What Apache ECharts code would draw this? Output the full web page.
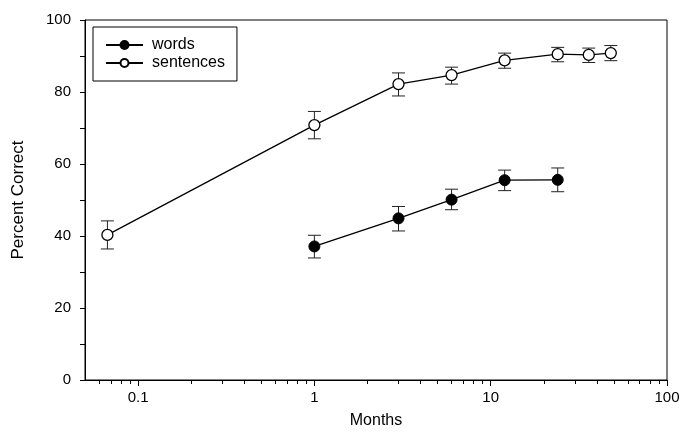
<!DOCTYPE html>
<html>
<head>
<meta charset="utf-8">
<script src="https://cdn.jsdelivr.net/npm/echarts@6/dist/echarts.min.js"></script>
<style>html,body{margin:0;padding:0;background:#fff}#c{width:685px;height:434px}</style>
</head>
<body>
<div id="c"></div>
<script>
// Data (months on x, percent correct on y)
const sentMonths = [0.067, 1, 3, 6, 12, 24, 36, 48];
const sentMean   = [40.3, 70.8, 82.2, 84.7, 88.8, 90.5, 90.3, 90.8];
const sentLow    = [36.4, 67.0, 78.9, 82.2, 86.6, 88.4, 88.2, 88.7];
const sentHigh   = [44.2, 74.6, 85.3, 86.9, 90.8, 92.4, 92.2, 92.9];

const wordMonths = [1, 3, 6, 12, 24];
const wordMean   = [37.1, 44.9, 50.1, 55.5, 55.6];
const wordLow    = [33.9, 41.4, 47.3, 52.6, 52.3];
const wordHigh   = [40.2, 48.2, 53.0, 58.3, 58.9];

const majorTicks = [0.1, 1, 10, 100];
const minorTicks = [0.06,0.07,0.08,0.09, 0.2,0.3,0.4,0.5,0.6,0.7,0.8,0.9, 2,3,4,5,6,7,8,9, 20,30,40,50,60,70,80,90];

const FONT = 'Liberation Sans, Arial, sans-serif';

function pairs(xs, ys){ return xs.map((x,i)=>[x, ys[i]]); }
function errData(xs, lo, hi){ return xs.map((x,i)=>[x, lo[i], hi[i]]); }

function errRender(params, api){
  const x = api.value(0);
  const lo = api.coord([x, api.value(1)]);
  const hi = api.coord([x, api.value(2)]);
  const hw = 6.5;
  const st = {stroke:'#222', lineWidth:1, fill:null};
  return {type:'group', children:[
    {type:'line', shape:{x1:lo[0], y1:lo[1], x2:hi[0], y2:hi[1]}, style:st},
    {type:'line', shape:{x1:lo[0]-hw, y1:lo[1], x2:lo[0]+hw, y2:lo[1]}, style:st},
    {type:'line', shape:{x1:hi[0]-hw, y1:hi[1], x2:hi[0]+hw, y2:hi[1]}, style:st}
  ]};
}

const chart = echarts.init(document.getElementById('c'), null, {renderer:'canvas'});
chart.setOption({
  animation:false,
  backgroundColor:'#fff',
  textStyle:{fontFamily:FONT},
  grid:{left:85, right:18, top:20, bottom:51.5, show:true, borderColor:'#000', borderWidth:1, backgroundColor:'transparent'},
  legend:{
    orient:'vertical', left:93, top:27,
    padding:[10, 12, 10, 12], itemGap:2,
    itemWidth:37, itemHeight:10,
    borderColor:'#000', borderWidth:1,
    textStyle:{fontFamily:FONT, fontSize:16, lineHeight:16, color:'#000', padding:[0,0,0,4]},
    data:['words','sentences']
  },
  xAxis:[{
    type:'log', logBase:10, min:0.05, max:100,
    name:'Months', nameLocation:'middle', nameGap:33,
    nameTextStyle:{fontFamily:FONT, fontSize:16, color:'#000'},
    axisLine:{show:true, lineStyle:{color:'#000', width:1}},
    axisTick:{show:true, length:6, inside:false, customValues:majorTicks, lineStyle:{color:'#000'}},
    axisLabel:{show:true, customValues:majorTicks, margin:10, fontFamily:FONT, fontSize:15, color:'#000',
      formatter:function(v){ return String(+Number(v).toPrecision(6)); }},
    splitLine:{show:false}, minorTick:{show:false}, minorSplitLine:{show:false}
  },{
    type:'log', logBase:10, min:0.05, max:100, position:'bottom',
    axisLine:{show:false},
    axisTick:{show:true, length:4, inside:false, customValues:minorTicks, lineStyle:{color:'#000'}},
    axisLabel:{show:false},
    splitLine:{show:false}
  }],
  yAxis:{
    type:'value', min:0, max:100, interval:20,
    name:'Percent Correct', nameLocation:'middle', nameGap:58, nameRotate:90,
    nameTextStyle:{fontFamily:FONT, fontSize:17, color:'#000'},
    axisLine:{show:true, lineStyle:{color:'#000', width:1}},
    axisTick:{show:true, length:5, lineStyle:{color:'#000'}},
    minorTick:{show:true, splitNumber:2, length:5, lineStyle:{color:'#000'}},
    axisLabel:{margin:14, fontFamily:FONT, fontSize:15, color:'#000'},
    splitLine:{show:false}
  },
  series:[
    {name:'words-err', type:'custom', xAxisIndex:0, renderItem:errRender, data:errData(wordMonths, wordLow, wordHigh), z:1, silent:true},
    {name:'sentences-err', type:'custom', xAxisIndex:0, renderItem:errRender, data:errData(sentMonths, sentLow, sentHigh), z:1, silent:true},
    {name:'words', type:'line', xAxisIndex:0, data:pairs(wordMonths, wordMean),
      symbol:'circle', symbolSize:11, lineStyle:{color:'#000', width:1.3},
      itemStyle:{color:'#000', borderColor:'#000', borderWidth:1}, z:3},
    {name:'sentences', type:'line', xAxisIndex:0, data:pairs(sentMonths, sentMean),
      symbol:'circle', symbolSize:11, lineStyle:{color:'#000', width:1.3},
      itemStyle:{color:'#fff', borderColor:'#000', borderWidth:1.3}, z:3}
  ]
});
</script>
</body>
</html>
